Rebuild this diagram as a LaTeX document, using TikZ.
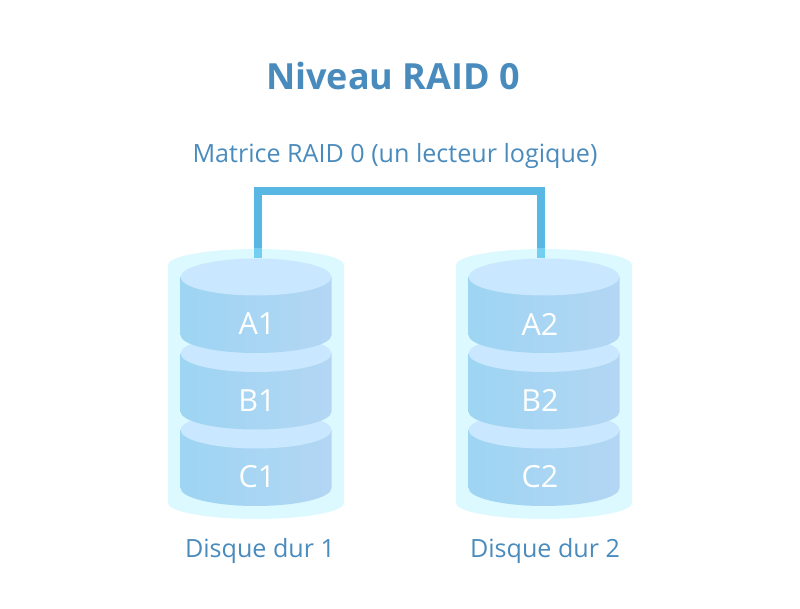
\documentclass[tikz,border=0pt]{standalone}
\usepackage{fontspec}
\setmainfont{Open Sans}
\usetikzlibrary{calc}
\definecolor{textblue}{HTML}{4A8BBD}
\definecolor{busblue}{HTML}{59B7E3}
\definecolor{buslight}{HTML}{74CEEF}
\definecolor{shell}{HTML}{DCF9FF}
\definecolor{platter}{HTML}{C9E8FF}
\definecolor{sideleft}{HTML}{9DD5F3}
\definecolor{sideright}{HTML}{B3D6F3}
\tikzset{
  label text/.style={text=textblue,inner sep=0pt,font=\fontsize{25.1}{29}\selectfont},
  disk text/.style={text=white,inner sep=0pt,font=\fontsize{30.5}{34}\selectfont},
  bus/.style={line width=7.5pt,busblue,line join=miter}
}
\begin{document}
\begin{tikzpicture}[x=1pt,y=1pt]
  \useasboundingbox (0,0) rectangle (800,609);
  \node[text=textblue,inner sep=0pt,font=\bfseries\fontsize{36}{42}\selectfont] (title) at (393,533) {Niveau RAID 0};
  \node[label text] (array) at (395,453.5) {Matrice RAID 0 (un lecteur logique)};
  \foreach \i/\cx/\tx/\lx in {1/256/257/260,2/544/540/545}{
    \fill[shell] (\cx-88,344) arc (180:0:88 and 16) -- (\cx+88,106) arc (360:180:88 and 16) -- cycle;
    \foreach \d/\ytop in {C/179,B/255.5,A/332}{
      \pgfmathsetmacro{\ybot}{\ytop-58}
      \shade[left color=sideleft,right color=sideright]
        (\cx-75.5,\ytop) -- (\cx-75.5,\ybot) arc (180:360:75.5 and 18) -- (\cx+75.5,\ytop) -- cycle;
      \fill[platter] (\cx,\ytop) ellipse (75.5 and 18.5);
      \node[disk text] (disk\d\i) at (\tx,\ytop-47) {\d\i};
    }
    \node[label text] (hdd\i) at (\lx,58) {Disque dur \i};
    \coordinate (top\i) at (\tx+1,351);
    \coordinate (rim\i) at (\tx+1,361);
    \coordinate (bus\i) at (\tx+1,418);
    \draw[line width=7.5pt,buslight] (top\i) -- (rim\i);
  }
  \draw[bus] (rim1) -- (bus1) -- (bus2) -- (rim2);
\end{tikzpicture}
\end{document}
